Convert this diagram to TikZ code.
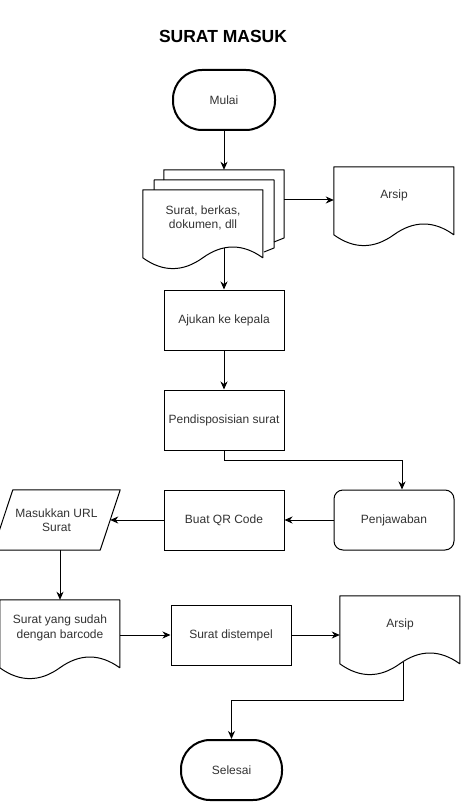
\documentclass[tikz,border=0pt]{standalone}
\usepackage{fontspec}
\setmainfont{Liberation Sans}
\usetikzlibrary{arrows.meta,calc}
\definecolor{txt}{HTML}{333333}
\tikzset{
  base/.style={inner sep=0pt, align=center, text=txt, font=\fontsize{12}{14.4}\selectfont},
  procbox/.style={base, draw=black, line width=1pt, minimum width=120pt, minimum height=60pt},
  roundbox/.style={procbox, rounded corners=9pt},
  termbox/.style={base, draw=black, line width=2pt, rounded corners=29pt, minimum height=60pt},
  docbox/.style={base, minimum width=120pt, minimum height=56pt},
  plain/.style={base, minimum width=120pt, minimum height=60pt},
  outline/.style={draw=black, line width=1pt, line join=round},
  conn/.style={draw=black, line width=1pt, -{Stealth[length=8pt,width=7pt,inset=2.5pt]}},
}
% document outline from the top-left corner of a docbox node (120 x 80)
\newcommand\docoutline[1]{%
  \draw[outline] (#1.north west) -- ++(120,0) -- ++(0,68)
    .. controls +(-20,-14.4) and +(20,-14.4) .. ++(-60,0)
    .. controls +(-20,14.4) and +(20,14.4) .. ++(-60,0) -- cycle;}
\begin{document}
\begin{tikzpicture}[x=1pt,y=-1pt]
\useasboundingbox (0,0) rectangle (461,802);
\fill[white] (0,0) rectangle (461,802);

% title
\node[base, font=\fontsize{17.5}{21}\selectfont\bfseries, text=black] (title) at (223,36) {SURAT MASUK};

% nodes
\node[termbox, minimum width=102pt] (mulai) at (224,100) {Mulai};
\node[plain] (back) at (224,200) {};
\node[docbox] (stack) at (203,218) {Surat, berkas,\\dokumen, dll};
\node[docbox] (arsipa) at (394,195) {Arsip};
\node[procbox] (ajukan) at (224,320) {Ajukan ke kepala};
\node[procbox] (pend) at (224,420) {Pendisposisian surat};
\node[roundbox] (penj) at (394,520) {Penjawaban};
\node[procbox] (qr) at (224,520) {Buat QR Code};
\node[base, minimum width=127pt, minimum height=60pt] (url) at (56.5,520) {Masukkan URL\\Surat};
\node[docbox] (suratb) at (60,628) {Surat yang sudah\\dengan barcode};
\node[procbox] (stempel) at (231,635) {Surat distempel};
\node[docbox] (arsipb) at (400,624) {Arsip};
\node[termbox, minimum width=101pt] (selesai) at (231.5,770) {Selesai};

% shapes drawn directly
\draw[outline] (164,180) -- (back.north west) -- (back.north east) -- (284,238) -- (274,242);
\draw[outline] (154,190) -- (154,180) -- (274,180) -- (274,248) -- (264,252);
\docoutline{stack}
\docoutline{arsipa}
\docoutline{suratb}
\docoutline{arsipb}
\draw[outline] (url.south west) -- ([xshift=20pt]url.north west) -- (url.north east) -- ([xshift=-20pt]url.south east) -- cycle;

% connector end points on the wavy edges
\coordinate (stackout) at (224,248);
\coordinate (arsipbout) at (403,662);
\coordinate (urlin) at ($(url.east)+(-10,0)$);

% connectors
\draw[conn] (mulai.south) -- (back.north);
\draw[conn] (back.east) -- (back.east -| arsipa.west);
\draw[conn] (stackout) -- (ajukan.north);
\draw[conn] (ajukan.south) -- (pend.north);
\draw[conn] (pend.south) -- ++(0,10) -| ([xshift=8pt]penj.north);
\draw[conn] (penj.west) -- (qr.east);
\draw[conn] (qr.west) -- (urlin);
\draw[conn] (url.south -| suratb.north) -- (suratb.north);
\draw[conn] (stempel.west -| suratb.east) -- (stempel.west);
\draw[conn] (stempel.east) -- (stempel.east -| arsipb.west);
\draw[conn] (arsipbout) -- ++(0,38) -| (selesai.north);
\end{tikzpicture}
\end{document}
